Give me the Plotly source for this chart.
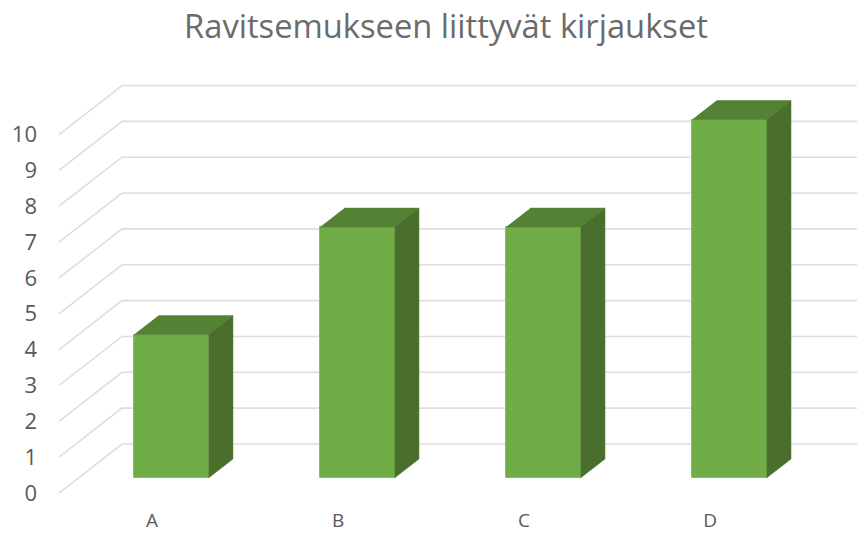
import plotly.graph_objects as go

categories = ["A", "B", "C", "D"]
values = [4, 7, 7, 10]
y_ticks = list(range(0, 11))
title_text = "Ravitsemukseen liittyvät kirjaukset"

# Oblique projection: a point at depth d (0 = front of the floor, 1 = back wall)
# is shifted by d*DX on the category axis and d*DY on the value axis.
DX, DY = 0.3387, 1.367
BAR_FRONT, BAR_BACK = 0.306, 0.694
BAR_W = 0.4


def proj(x, v, d):
    return x + d * DX, v + d * DY


fig = go.Figure()

# back-wall + side-wall gridlines (below the bars)
shapes = []
for t in y_ticks:
    x0, y0 = proj(-0.5, t, 0)
    x1, y1 = proj(-0.5, t, 1)
    x2, y2 = proj(3.5, t, 1)
    shapes.append(dict(type="path", layer="below", xref="x", yref="y",
                       path=f"M{x0},{y0} L{x1},{y1} L{x2},{y2}",
                       line=dict(color="#DEDEDE", width=1.6)))

# front faces
fx, base = proj(0, 0, BAR_FRONT)
fig.add_trace(go.Bar(x=[i + fx for i in range(len(values))], y=values, base=base,
                     width=BAR_W, marker=dict(color="#70AD47", line=dict(color="#86BC62", width=1)),
                     showlegend=False, hoverinfo="skip"))

# top and side faces
for i, v in enumerate(values):
    l, r = i - BAR_W / 2, i + BAR_W / 2
    top = [proj(l, v, BAR_FRONT), proj(r, v, BAR_FRONT), proj(r, v, BAR_BACK), proj(l, v, BAR_BACK)]
    side = [proj(r, 0, BAR_FRONT), proj(r, 0, BAR_BACK), proj(r, v, BAR_BACK), proj(r, v, BAR_FRONT)]
    for pts, col in ((top, "#548235"), (side, "#4A6E2B")):
        fig.add_trace(go.Scatter(x=[p[0] for p in pts], y=[p[1] for p in pts],
                                 mode="lines", fill="toself", fillcolor=col,
                                 line=dict(color=col, width=0.5),
                                 showlegend=False, hoverinfo="skip"))

fig.update_layout(
    width=857, height=533, paper_bgcolor="white", plot_bgcolor="white",
    margin=dict(l=38, r=0, t=70, b=33),
    bargap=0,
    shapes=shapes,
    title=dict(text=title_text, x=446 / 857, xanchor="center", y=1 - 27 / 533, yanchor="middle",
               font=dict(family="Open Sans", size=32.7, color="#6B6B6B")),
    xaxis=dict(range=[-0.613, 3.79], tickmode="array", tickvals=list(range(4)), ticktext=categories,
               showgrid=False, zeroline=False, showline=False, ticks="", ticklabelstandoff=7,
               tickfont=dict(family="Open Sans", size=19, color="#595959")),
    yaxis=dict(range=[-0.195, 11.80], tickmode="array", tickvals=y_ticks,
               showgrid=False, zeroline=False, showline=False, ticks="",
               tickfont=dict(family="Open Sans", size=22, color="#595959")),
)

fig.write_html("out.html", config={"displayModeBar": False},
               post_script="document.body.style.margin='0';")
